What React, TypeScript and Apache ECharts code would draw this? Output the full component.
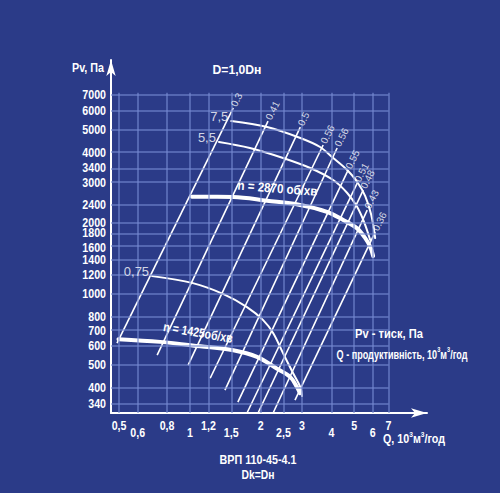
import React, { useEffect, useRef } from "react";
import * as echarts from "echarts";

const X_MIN = 0.462;
const X_MAX = 10.2;
const Y_MIN = 311;
const Y_MAX = 9860;
const GRID_X_END = 7;
const GRID_Y_END = 7150;

const xTicks = [0.5, 0.6, 0.8, 1, 1.2, 1.5, 2, 2.5, 3, 4, 5, 6, 7];
const xTickLabels = ["0,5", "0,6", "0,8", "1", "1,2", "1,5", "2", "2,5", "3", "4", "5", "6", "7"];
const xTickRow = [0, 1, 0, 1, 0, 1, 0, 1, 0, 1, 0, 1, 0];
const yTicks = [340, 400, 500, 600, 700, 800, 1000, 1200, 1400, 1600, 1800, 2000, 2400, 3000, 3400, 4000, 5000, 6000, 7000];
const yTickLabels = yTicks.map((v) => String(v));
const yTickNudge: Record<number, number> = { 1800: -1.5, 1600: 1.5, 3400: -1, 3000: 1 };

// speed curves (Q, Pv)
const curve2870 = [[1.02, 2585], [1.53, 2580], [2.13, 2485], [2.94, 2385], [3.83, 2230], [4.49, 2057], [5.13, 1900], [5.57, 1724], [5.85, 1583], [6.02, 1446]];
const curve1425 = [[0.497, 641], [0.747, 624], [1.106, 598], [1.53, 575], [1.93, 539], [2.34, 481], [2.67, 443], [2.85, 402], [2.94, 378]];
// power curves
const curve75 = [[1.5, 5424], [2.13, 5114], [2.95, 4594], [3.58, 4206], [4.07, 3777], [4.67, 3357], [5.15, 2985], [5.57, 2602], [5.91, 2160], [6.14, 1724]];
const curve55 = [[1.33, 4417], [1.8, 4165], [2.49, 3777], [3.25, 3424], [4.07, 3044], [4.67, 2680], [5.15, 2336], [5.51, 2017], [5.85, 1691]];
const curve075 = [[0.691, 1188], [1.03, 1109], [1.39, 996], [1.75, 877], [2.05, 772], [2.26, 680], [2.49, 559], [2.75, 459], [2.95, 401], [3.0, 367]];
const powerLabels = ["7,5", "5,5", "0,75"];

// efficiency lines
const effLabels = ["0.3", "0.41", "0.5", "0.56", "0.56", "0.55", "0.51", "0.48", "0.43", "0.36"];
const effStart = [[0.49, 616], [0.726, 548], [0.983, 497], [1.22, 437], [1.41, 389], [1.6, 346], [1.75, 311], [1.95, 311], [2.26, 311], [2.8, 353]];
const effEnd = [[1.53, 6164], [2.15, 5424], [2.95, 5114], [3.69, 4290], [4.23, 4165], [4.71, 3357], [5.15, 2955], [5.46, 2760], [5.68, 2268], [6.14, 1828]];

const BG = "#2b3b88";
const GRID_COLOR = "rgba(118,138,208,0.75)";
const FONT = '"Liberation Sans", Arial, "DejaVu Sans", sans-serif';
const NARROW = 0.82;

let measureCtx: CanvasRenderingContext2D | null = null;
function measure(text: string, font: string) {
  if (!measureCtx) measureCtx = document.createElement("canvas").getContext("2d");
  measureCtx!.font = font;
  return measureCtx!.measureText(text).width;
}

function fitText(text: string, size: number, target: number, x: number, y: number, align: string, extra: any = {}) {
  const font = `bold ${size}px ${FONT}`;
  const w = measure(text, font);
  const { vAlign, ...rest } = extra;
  return {
    type: "text",
    x,
    y,
    scaleX: target / w,
    silent: true,
    z: 10,
    ...rest,
    style: { text, fill: "#fff", font, align, verticalAlign: vAlign || "middle" },
  };
}

function supText(parts: string[], size: number, supSize: number, target: number, x: number, y: number, align: string) {
  let w = 0;
  parts.forEach((p, i) => {
    w += measure(p, `bold ${i % 2 ? supSize : size}px ${FONT}`);
  });
  const text = parts.map((p, i) => `{${i % 2 ? "s" : "a"}|${p}}`).join("");
  return {
    type: "text",
    x,
    y,
    scaleX: target / w,
    silent: true,
    z: 10,
    style: {
      text,
      align,
      verticalAlign: "middle",
      rich: {
        a: { fill: "#fff", fontFamily: FONT, fontWeight: "bold", fontSize: size, lineHeight: size + 2, verticalAlign: "bottom" },
        s: { fill: "#fff", fontFamily: FONT, fontWeight: "bold", fontSize: supSize, lineHeight: size + 2, verticalAlign: "top" },
      },
    },
  };
}

export default function App() {
  const ref = useRef<HTMLDivElement>(null);
  useEffect(() => {
    document.body.style.margin = "0";
    document.body.style.background = BG;
    const chart = echarts.init(ref.current!, undefined, { renderer: "svg" });

    const vLines = xTicks.map((v) => [{ coord: [v, Y_MIN] }, { coord: [v, GRID_Y_END] }]);
    const hLines = yTicks.map((v) => [{ coord: [X_MIN, v] }, { coord: [GRID_X_END, v] }]);

    const curve = (name: string, data: number[][], width: number) => ({
      name,
      type: "line",
      data,
      smooth: 0.35,
      symbol: "none",
      silent: true,
      z: 4,
      lineStyle: { color: "#fff", width, cap: "round" },
    });

    const effSeries = effStart.map((s, i) => ({
      name: "eff" + i,
      type: "line",
      data: [s, effEnd[i]],
      symbol: "none",
      silent: true,
      z: 3,
      lineStyle: { color: "#fff", width: 1.6 },
    }));

    const option: any = {
      animation: false,
      backgroundColor: BG,
      grid: { left: 111, right: 73, top: 60, bottom: 80 },
      xAxis: {
        type: "log",
        min: X_MIN,
        max: X_MAX,
        axisLine: { show: true, onZero: false, symbol: ["none", "arrow"], symbolSize: [7, 16], lineStyle: { color: "#fff", width: 2 } },
        axisTick: { show: false },
        axisLabel: { show: false },
        splitLine: { show: false },
      },
      yAxis: {
        type: "log",
        min: Y_MIN,
        max: Y_MAX,
        axisLine: { show: true, onZero: false, symbol: ["none", "arrow"], symbolSize: [7, 16], lineStyle: { color: "#fff", width: 2 } },
        axisTick: { show: false },
        axisLabel: { show: false },
        splitLine: { show: false },
      },
      series: [
        {
          name: "grid",
          type: "line",
          data: [],
          silent: true,
          z: 1,
          markLine: {
            silent: true,
            symbol: "none",
            label: { show: false },
            lineStyle: { color: GRID_COLOR, width: 1.5, type: "solid" },
            data: [...vLines, ...hLines],
          },
        },
        ...effSeries,
        curve("n2870", curve2870, 4),
        curve("n1425", curve1425, 4),
        curve("p75", curve75, 2),
        curve("p55", curve55, 2),
        curve("p075", curve075, 2),
        {
          name: "powerLabels",
          type: "scatter",
          clip: false,
          silent: true,
          symbolSize: 0,
          z: 5,
          data: [curve75[0], curve55[0], curve075[0]].map((p, i) => ({
            value: p,
            label: {
              show: true,
              position: "left",
              distance: 3,
              offset: [0, -5],
              formatter: powerLabels[i],
              color: "#fff",
              fontFamily: FONT,
              fontSize: 13,
            },
          })),
        },
        {
          name: "effLabels",
          type: "scatter",
          clip: false,
          silent: true,
          symbolSize: 0,
          z: 5,
          data: effEnd.map((p, i) => ({
            value: p,
            label: {
              show: true,
              position: "top",
              distance: 2,
              rotate: 63,
              align: "left",
              verticalAlign: "middle",
              formatter: effLabels[i],
              color: "#fff",
              fontFamily: FONT,
              fontSize: 10,
            },
          })),
        },
      ],
    };
    chart.setOption(option);

    const tickFont = `bold 13px ${FONT}`;
    const tickTexts: any[] = [];
    xTicks.forEach((v, i) => {
      const [x, y] = chart.convertToPixel({ gridIndex: 0 }, [v, Y_MIN]) as number[];
      tickTexts.push({
        type: "text", x, y: y + (xTickRow[i] ? 20 : 13), scaleX: NARROW, silent: true,
        style: { text: xTickLabels[i], fill: "#fff", font: tickFont, align: "center", verticalAlign: "middle" },
      });
    });
    yTicks.forEach((v, i) => {
      const [x, y] = chart.convertToPixel({ gridIndex: 0 }, [X_MIN, v]) as number[];
      tickTexts.push({
        type: "text", x: x - 5, y: y + (yTickNudge[v] || 0), scaleX: NARROW, silent: true,
        style: { text: yTickLabels[i], fill: "#fff", font: tickFont, align: "right", verticalAlign: "middle" },
      });
    });

    const annotations = [
      fitText("Pv, Па", 13, 32, 88, 68, "center"),
      fitText("D=1,0Dн", 13, 49, 237, 70, "center"),
      fitText("n = 2870 об/хв", 13, 80, 277, 195, "center", { rotation: -0.08, vAlign: "bottom" }),
      fitText("n = 1425об/хв", 13, 70, 197, 339, "center", { rotation: -0.17, vAlign: "bottom" }),
      fitText("Pv - тиск, Па", 13, 68, 389, 334, "center"),
      supText(["Q - продуктивність, 10", "3", "м", "3", "/год"], 13, 8, 131, 402, 353, "center"),
      supText(["Q, 10", "3", "м", "3", "/год"], 13, 8, 62, 383, 438, "left"),
      fitText("ВРП 110-45-4.1", 13, 77, 258, 460, "center"),
      fitText("Dk=Dн", 13, 33, 258, 474, "center"),
    ];
    chart.setOption({ graphic: [...tickTexts, ...annotations] });
    return () => chart.dispose();
  }, []);
  return <div ref={ref} style={{ width: 500, height: 493 }} />;
}
